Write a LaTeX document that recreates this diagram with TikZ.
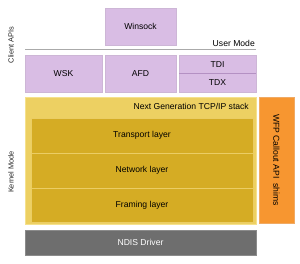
\documentclass[tikz,border=0pt]{standalone}
\usepackage{fontspec}
\setmainfont{Liberation Sans}
\definecolor{lav}{RGB}{217,189,228}
\definecolor{lavedge}{RGB}{205,182,214}
\definecolor{lavdiv}{RGB}{180,145,195}
\definecolor{outery}{RGB}{237,208,98}
\definecolor{outeredge}{RGB}{245,225,140}
\definecolor{innery}{RGB}{213,172,36}
\definecolor{inneredge}{RGB}{235,205,100}
\definecolor{orng}{RGB}{247,150,48}
\definecolor{orngedge}{RGB}{240,170,100}
\definecolor{ndisgray}{RGB}{110,110,110}
\definecolor{sepgray}{RGB}{170,170,170}
\begin{document}
\begin{tikzpicture}[x=1pt,y=-1pt,
  lbl/.style={font=\fontsize{8.6}{10}\selectfont},
  side/.style={font=\fontsize{7.4}{9}\selectfont, text=black!85},
  boxbase/.style={lbl, anchor=north west, inner sep=0pt, outer sep=0pt, line width=0.8pt},
  apibox/.style={boxbase, fill=lav, draw=lavedge},
  outerbox/.style={boxbase, fill=outery, draw=outeredge},
  layerbox/.style={boxbase, fill=innery, draw=inneredge},
  wfpbox/.style={boxbase, fill=orng, draw=orngedge},
  ndisbox/.style={boxbase, fill=ndisgray, draw=ndisgray!80!white, text=white}]
\useasboundingbox (0,0) rectangle (300,263);

% user mode
\node[apibox, minimum width=71pt, minimum height=37pt] (winsock) at (105,8) {Winsock};
\coordinate (sepL) at (25,49);
\coordinate (sepR) at (256,49);
\draw[sepgray, line width=0.8pt] (sepL) -- (sepR);
\node[lbl, anchor=south east, inner sep=0pt] (usermode) at (255,46.5) {User Mode};

% client APIs
\node[apibox, minimum width=77pt, minimum height=37pt] (wsk) at (25,55) {WSK};
\node[apibox, minimum width=71pt, minimum height=37pt] (afd) at (105,55) {AFD};
\node[apibox, minimum width=77pt, minimum height=18.5pt] (tdi) at (179,55) {TDI};
\node[apibox, minimum width=77pt, minimum height=18.5pt] (tdx) at (179,73.5) {TDX};
\draw[lavdiv, line width=0.6pt] (tdi.south west) -- (tdi.south east);

% kernel stack
\node[outerbox, minimum width=231pt, minimum height=127pt] (stack) at (25,97) {};
\node[lbl, anchor=east, inner sep=0pt] (stacktitle) at (249,106.5) {Next Generation TCP/IP stack};
\node[layerbox, minimum width=222pt, minimum height=35pt] (transport) at (31,118) {Transport layer};
\node[layerbox, minimum width=222pt, minimum height=35pt] (network) at (31,153) {Network layer};
\node[layerbox, minimum width=222pt, minimum height=34pt] (framing) at (31,188) {Framing layer};

\node[wfpbox, minimum width=35pt, minimum height=126pt] (wfp) at (259,97) {};
\node[lbl, rotate=-90, inner sep=0pt] (wfptext) at (wfp.center) {WFP Callout API\ \ shims};

\node[ndisbox, minimum width=231pt, minimum height=25pt] (ndis) at (25,230) {NDIS Driver};

% side labels
\node[side, rotate=90, inner sep=0pt] (client) at (11,45) {Client APIs};
\node[side, rotate=90, inner sep=0pt] (kernel) at (11,172) {Kernel Mode};
\end{tikzpicture}
\end{document}
